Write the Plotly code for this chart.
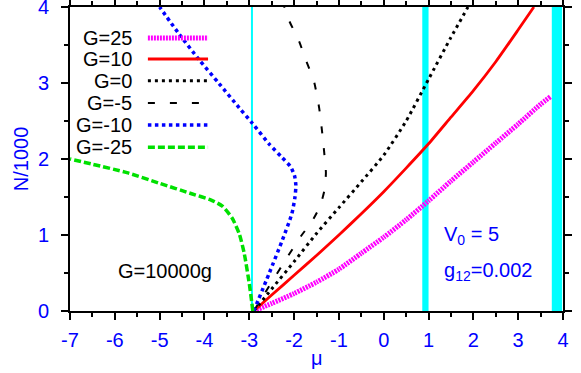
import plotly.graph_objects as go

# ---- data ----
G25_mu = [-2.9, -2.5, -2, -1.5, -1, -0.5, 0, 0.5, 1, 1.5, 2, 2.5, 3, 3.5, 3.72]
G25_N = [0, 0.1, 0.23, 0.38, 0.55, 0.76, 0.97, 1.2, 1.45, 1.71, 1.96, 2.21, 2.46, 2.72, 2.82]

G10_mu = [-2.9, -2.5, -2, -1.5, -1, -0.5, 0, 0.5, 1, 1.5, 2, 2.5, 3, 3.35]
G10_N = [0, 0.21, 0.47, 0.73, 1.0, 1.28, 1.57, 1.88, 2.2, 2.55, 2.9, 3.28, 3.7, 4.0]

G0_mu = [-2.9, -2.5, -2, -1.5, -1, -0.5, 0, 0.5, 1, 1.5, 1.88]
G0_N = [0, 0.29, 0.65, 1.02, 1.36, 1.7, 2.05, 2.5, 3.05, 3.6, 4.0]

Gm5_mu = [-2.9, -2.49, -2.16, -1.84, -1.6, -1.42, -1.32, -1.29, -1.31, -1.36, -1.44, -1.56, -1.73, -1.89, -2.11, -2.22]
Gm5_N = [0, 0.39, 0.70, 0.99, 1.18, 1.38, 1.6, 1.82, 1.97, 2.28, 2.67, 3.03, 3.29, 3.55, 3.82, 4.0]

Gm10_mu = [-2.9, -2.56, -2.27, -2.05, -1.98, -1.96, -1.99, -2.08, -2.27, -2.56, -2.93, -3.22, -3.67, -4.11, -4.56, -5.0]
Gm10_N = [0, 0.49, 0.92, 1.28, 1.5, 1.65, 1.78, 1.9, 2.02, 2.2, 2.47, 2.67, 2.99, 3.3, 3.64, 4.0]

Gm25_mu = [-2.92, -3.0, -3.11, -3.22, -3.38, -3.6, -3.85, -4.27, -5.0, -5.73, -6.49, -7.0]
Gm25_N = [0, 0.36, 0.75, 1.01, 1.22, 1.38, 1.46, 1.54, 1.68, 1.82, 1.93, 2.0]

series_names = ["G=25", "G=10", "G=0", "G=-5", "G=-10", "G=-25"]
series_mu = [G25_mu, G10_mu, G0_mu, Gm5_mu, Gm10_mu, Gm25_mu]
series_N = [G25_N, G10_N, G0_N, Gm5_N, Gm10_N, Gm25_N]

cyan_lines = [-2.94]
cyan_bands = [(0.86, 1.0), (3.75, 3.98)]

x_ticks = [-7, -6, -5, -4, -3, -2, -1, 0, 1, 2, 3, 4]
y_ticks = [0, 1, 2, 3, 4]

x_title = "μ"
y_title = "N/1000"

# ---- styles ----
colors = ["#ff00ff", "#ff0000", "#000000", "#000000", "#0000ff", "#00e000"]
widths = [5, 2.8, 3, 2, 3.5, 3.5]
dashes = ["2px,1px", "solid", "3px,4px", "7px,15px", "3.5px,3.5px", "7px,3px"]

FONT = "Liberation Sans, Arial, Helvetica, sans-serif"

fig = go.Figure()
for name, xs, ys, c, w, d in zip(series_names, series_mu, series_N, colors, widths, dashes):
    fig.add_trace(go.Scatter(x=xs, y=ys, mode="lines", name=name,
                             line=dict(color=c, width=w, dash=d, shape="spline", smoothing=0.6),
                             showlegend=False))

shapes = []
for xv in cyan_lines:
    shapes.append(dict(type="line", xref="x", yref="paper", x0=xv, x1=xv, y0=0, y1=1,
                       line=dict(color="#00ffff", width=2), layer="below"))
for a, b in cyan_bands:
    shapes.append(dict(type="rect", xref="x", yref="paper", x0=a, x1=b, y0=0, y1=1,
                       fillcolor="#00ffff", line=dict(width=0), layer="below"))

# custom legend (text right-aligned, sample to its right)
annotations = []
leg_y = [0.898, 0.829, 0.757, 0.684, 0.612, 0.539]
for name, yy, c, w, d in zip(series_names, leg_y, colors, widths, dashes):
    annotations.append(dict(text=name, xref="paper", yref="paper", x=0.130, y=yy,
                            xanchor="right", yanchor="middle", showarrow=False,
                            font=dict(family=FONT, size=20, color="black")))
    shapes.append(dict(type="line", xref="paper", yref="paper", x0=0.158, x1=0.280, y0=yy, y1=yy,
                       line=dict(color=c, width=w, dash=d)))

annotations += [
    dict(text="G=10000g", x=-5.98, y=0.52, xref="x", yref="y", xanchor="left", yanchor="middle",
         showarrow=False, font=dict(family=FONT, size=20, color="black")),
    dict(text="V<sub>0</sub> = 5", x=1.29, y=1.0, xref="x", yref="y", xanchor="left", yanchor="middle",
         showarrow=False, font=dict(family=FONT, size=20, color="#0000ff")),
    dict(text="g<sub>12</sub>=0.002", x=1.29, y=0.52, xref="x", yref="y", xanchor="left", yanchor="middle",
         showarrow=False, font=dict(family=FONT, size=20, color="#0000ff")),
    # axis titles
    dict(text=x_title, x=0.5, y=-0.198, xref="paper", yref="paper", xanchor="center", yanchor="bottom",
         showarrow=False, font=dict(family=FONT, size=20, color="#0000ff")),
    dict(text=y_title, x=-0.099, y=0.5, xref="paper", yref="paper", xanchor="center", yanchor="middle",
         textangle=-90, showarrow=False, font=dict(family=FONT, size=20, color="#0000ff")),
]

axis_common = dict(showgrid=False, zeroline=False, showline=True, linecolor="black", linewidth=2,
                   mirror="allticks", ticks="outside", ticklen=7, tickwidth=1.5, tickcolor="black",
                   automargin=False, ticklabeloverflow="allow",
                   tickfont=dict(family=FONT, size=20, color="#0000ff"))

fig.update_layout(
    width=581, height=373,
    margin=dict(l=70, r=18, t=7, b=62),
    paper_bgcolor="white", plot_bgcolor="white",
    shapes=shapes, annotations=annotations,
    xaxis=dict(range=[-7, 4], tickvals=x_ticks, ticktext=[str(v) for v in x_ticks],
               minor=dict(dtick=0.5, ticklen=4, ticks="outside", tickcolor="black", tickwidth=1.5),
               ticklabelstandoff=3,
               **axis_common),
    yaxis=dict(range=[0, 4], tickvals=y_ticks, ticktext=[str(v) for v in y_ticks],
               minor=dict(dtick=0.5, ticklen=4, ticks="outside", tickcolor="black", tickwidth=1.5),
               ticklabelstandoff=8,
               **axis_common),
)

fig.write_html("out.html", config={"displayModeBar": False},
               post_script="document.body.style.margin='0';document.body.style.overflow='hidden';")
